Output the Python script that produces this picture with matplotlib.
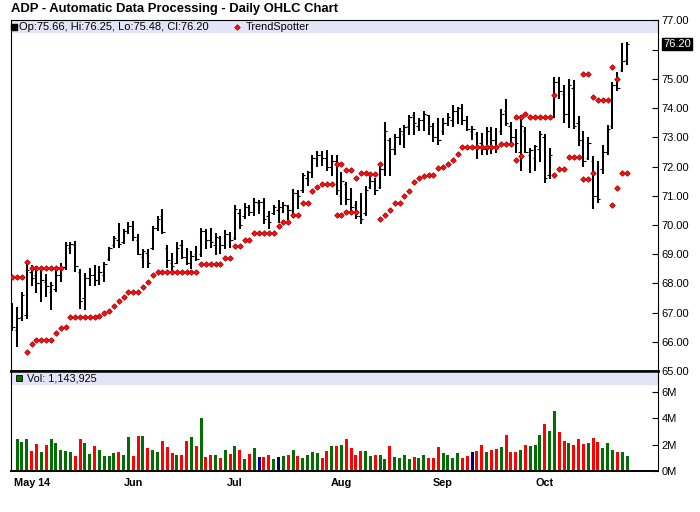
import matplotlib.pyplot as plt
import numpy as np

plt.rcParams['font.family'] = ['Liberation Sans', 'DejaVu Sans']

# daily bars, first one = idx 0
opens = [67.00, 66.40, 66.85, 66.90, 68.40, 68.30, 68.00, 68.05, 67.70, 67.80,
         68.30, 68.55, 69.20, 69.30, 68.40, 67.50, 68.20, 68.30, 68.10, 68.30,
         68.85, 69.30, 69.50, 69.40, 69.80, 69.95, 69.50, 68.90, 69.05, 69.20,
         69.90, 70.30, 69.20, 68.70, 68.70, 69.30, 68.90, 68.70, 69.00, 69.00,
         69.80, 69.50, 69.30, 69.55, 69.30, 69.70, 69.55, 70.40, 70.30, 70.60,
         70.45, 70.75, 70.80, 70.30, 70.40, 70.50, 70.60, 70.65, 70.50, 71.10,
         71.20, 71.60, 71.80, 72.30, 72.40, 72.30, 72.00, 72.20, 71.00, 71.40,
         70.90, 70.70, 70.30, 70.40, 71.30, 71.50, 71.30, 71.90, 72.90, 72.60,
         73.00, 73.10, 73.40, 73.75, 73.40, 73.60, 73.75, 73.40, 73.00, 73.20,
         73.50, 73.60, 73.90, 74.00, 73.60, 73.20, 73.10, 72.80, 72.60, 73.20,
         72.90, 73.20, 73.90, 73.40, 73.00, 72.50, 73.20, 72.40, 72.30, 72.60,
         73.00, 71.70, 73.70, 74.90, 74.50, 73.80, 74.70, 73.50, 72.90, 72.30,
         72.20, 71.00, 71.90, 72.50, 73.40, 74.80, 75.30, 75.66]
highs = [67.33, 67.18, 67.72, 68.77, 68.62, 68.58, 68.54, 68.31, 68.03, 68.54,
         68.69, 69.43, 69.42, 69.44, 68.48, 68.35, 68.54, 68.62, 68.58, 68.74,
         69.25, 69.62, 70.05, 69.85, 70.11, 70.13, 69.68, 69.19, 69.19, 69.96,
         70.31, 70.53, 69.30, 69.03, 69.40, 69.48, 69.22, 69.11, 69.28, 69.91,
         69.85, 69.89, 69.74, 69.62, 69.82, 69.77, 70.70, 70.53, 70.76, 70.68,
         70.91, 70.84, 70.91, 70.48, 70.68, 70.84, 70.79, 70.70, 71.22, 71.18,
         71.78, 71.86, 72.41, 72.52, 72.52, 72.58, 72.38, 72.41, 71.81, 71.47,
         71.27, 70.81, 71.10, 71.33, 71.69, 71.61, 72.03, 73.53, 72.98, 73.13,
         73.32, 73.43, 73.78, 73.87, 73.66, 73.91, 73.78, 73.49, 73.66, 73.66,
         73.83, 74.12, 74.04, 74.14, 73.74, 73.40, 73.17, 73.15, 73.35, 73.35,
         73.32, 73.97, 74.31, 73.51, 73.30, 73.77, 73.35, 72.64, 72.75, 73.21,
         73.13, 72.64, 75.06, 75.06, 74.80, 74.99, 74.97, 73.72, 73.21, 73.01,
         72.35, 72.18, 72.75, 73.43, 74.91, 75.22, 76.22, 76.25]
lows = [66.38, 65.83, 66.72, 66.78, 67.92, 67.67, 67.37, 67.55, 67.10, 67.69,
        68.03, 68.46, 68.99, 68.40, 67.12, 67.10, 67.92, 67.92, 67.94, 68.03,
        68.77, 69.22, 69.22, 69.34, 69.68, 69.45, 68.96, 68.54, 68.54, 69.15,
        69.79, 69.68, 68.54, 68.40, 68.66, 68.83, 68.63, 68.49, 68.77, 68.91,
        69.17, 69.22, 68.98, 69.02, 69.17, 69.20, 69.48, 69.85, 70.19, 70.31,
        70.31, 70.36, 70.02, 69.85, 70.33, 70.08, 70.42, 70.16, 70.23, 70.53,
        71.10, 71.33, 71.61, 71.98, 72.01, 71.84, 71.69, 71.01, 70.70, 70.70,
        70.48, 70.19, 70.02, 70.31, 71.22, 71.01, 71.24, 71.67, 71.67, 72.41,
        72.75, 72.64, 73.07, 73.09, 73.21, 73.21, 73.09, 72.83, 72.75, 73.09,
        73.38, 73.35, 73.47, 73.43, 73.21, 72.92, 72.26, 72.40, 72.41, 72.44,
        72.47, 73.09, 73.38, 72.75, 72.45, 71.84, 72.47, 71.78, 71.84, 72.15,
        71.44, 71.56, 73.66, 74.31, 73.49, 73.32, 73.29, 72.69, 71.99, 72.24,
        70.53, 70.76, 71.76, 72.38, 73.29, 74.60, 75.25, 75.48]
closes = [66.50, 66.80, 67.60, 68.45, 68.20, 68.00, 68.10, 67.90, 67.95, 68.30,
          68.55, 69.30, 69.35, 68.60, 67.40, 68.20, 68.30, 68.10, 68.40, 68.65,
          69.20, 69.55, 69.35, 69.80, 69.95, 69.60, 69.00, 69.10, 68.70, 69.90,
          70.20, 69.75, 68.80, 68.60, 69.20, 68.90, 68.70, 68.95, 68.85, 69.80,
          69.50, 69.40, 69.60, 69.30, 69.70, 69.50, 70.55, 70.00, 70.60, 70.45,
          70.80, 70.80, 70.20, 70.10, 70.60, 70.60, 70.70, 70.50, 71.10, 71.00,
          71.70, 71.80, 72.30, 72.40, 72.30, 72.00, 72.20, 71.20, 71.50, 70.90,
          70.60, 70.30, 70.20, 71.20, 71.50, 71.20, 71.90, 73.20, 72.60, 73.00,
          73.20, 73.35, 73.70, 73.50, 73.60, 73.80, 73.40, 73.00, 72.90, 73.50,
          73.70, 73.90, 74.00, 73.60, 73.30, 73.30, 72.70, 72.60, 73.20, 72.90,
          72.70, 73.80, 73.50, 73.00, 72.80, 73.40, 72.50, 72.55, 72.70, 73.10,
          71.60, 72.40, 74.90, 74.60, 73.80, 74.80, 73.40, 72.90, 72.20, 72.80,
          71.00, 70.90, 72.50, 73.30, 74.80, 74.70, 75.60, 76.20]

# TrendSpotter dots (two rows where they overlap)
ts_upper = [68.23, 68.23, 68.23, 68.73, 68.54, 68.54, 68.54, 68.54, 68.54, 68.54,
            68.54, None, None, None, None, None, None, None, None, None,
            None, None, None, None, None, None, None, None, None, None,
            None, None, None, None, None, None, None, None, None, None,
            None, None, None, None, None, None, None, None, None, None,
            None, None, None, None, None, None, None, None, None, None,
            None, None, None, None, None, None, None, 72.10, 72.10, 71.89,
            71.89, 71.61, 71.78, 71.78, 71.73, 71.73, 72.10, None, None, None,
            None, None, None, None, None, None, None, None, None, None,
            None, None, None, None, None, None, None, None, None, None,
            None, None, None, None, 73.69, 73.69, 73.80, 73.69, 73.69, 73.69,
            73.69, 73.69, 74.45, None, None, None, None, None, 75.16, 75.16,
            74.38, 74.28, 74.28, 74.28, 75.40, 74.99, None, None]
ts_lower = [None, None, None, 65.64, 65.92, 66.05, 66.05, 66.05, 66.05, 66.29,
            66.46, 66.49, 66.85, 66.85, 66.85, 66.85, 66.85, 66.85, 66.88, 66.97,
            67.04, 67.23, 67.41, 67.55, 67.69, 67.69, 67.69, 67.88, 68.03, 68.29,
            68.40, 68.40, 68.40, 68.40, 68.40, 68.40, 68.40, 68.40, 68.40, 68.68,
            68.68, 68.68, 68.68, 68.68, 68.88, 68.88, 69.29, 69.29, 69.50, 69.50,
            69.74, 69.74, 69.74, 69.74, 69.74, 69.98, 70.11, 70.11, 70.35, 70.35,
            70.76, 70.76, 71.17, 71.31, 71.41, 71.41, 71.41, 70.33, 70.33, 70.45,
            70.45, 70.45, None, None, None, None, 70.19, 70.33, 70.50, 70.74,
            70.74, 70.99, 71.17, 71.48, 71.61, 71.67, 71.72, 71.72, 71.95, 71.99,
            72.09, 72.23, 72.44, 72.67, 72.67, 72.67, 72.67, 72.68, 72.68, 72.68,
            72.68, 72.77, 72.77, 72.77, 72.22, 72.37, None, None, None, None,
            None, None, 71.72, 71.92, 71.92, 72.33, 72.33, 72.33, 71.56, 71.56,
            71.78, None, None, None, 70.67, 71.27, 71.78, 71.78]

# volume (millions) starts at bar 1
volume = [2.42, 2.21, 2.42, 1.53, 2.04, 1.43, 1.96, 2.42, 2.11, 1.58,
          1.51, 1.43, 1.13, 2.42, 2.11, 1.28, 1.89, 1.58, 1.13, 1.13,
          1.36, 1.43, 1.21, 2.57, 1.13, 2.64, 2.64, 1.74, 1.58, 1.43,
          2.26, 1.81, 1.36, 1.21, 1.21, 2.26, 2.57, 1.89, 4.00, 1.06,
          1.21, 1.21, 0.98, 1.58, 1.28, 1.89, 1.58, 0.91, 1.28, 1.74,
          1.06, 1.06, 1.21, 0.91, 1.06, 1.13, 1.21, 1.58, 1.13, 0.98,
          1.21, 1.43, 1.36, 0.98, 1.51, 1.89, 1.89, 1.96, 2.42,
          1.71, 1.21, 1.51, 1.51, 1.13, 1.21, 1.21, 0.91, 1.89, 1.06,
          0.98, 1.21, 0.91, 1.06, 0.98, 1.21, 0.98, 0.98, 1.81, 1.36,
          1.21, 0.98, 1.36, 0.98, 1.13, 1.43, 1.51, 1.96, 1.43, 1.58,
          1.66, 1.81, 2.72, 1.43, 1.43, 1.58, 1.96, 1.89, 1.96, 2.72,
          3.55, 3.02, 4.53, 2.94, 2.26, 2.11, 1.96, 2.42, 2.04, 2.11,
          2.49, 2.19, 1.74, 2.11, 1.58, 1.43, 1.43, 1.14]
vol_dir = ("GGGRRGRGGG" "GGRRGGRGGG" "GRGGRRGRGG" "RRRGRRGRGR" "RGRGRGRGRG"
           "BRRGBGRGRG" "GGGRRGRGR"
           "RRRGGRGGRG" "GGGRGGRRRG" "GGGRRBRRGR" "RGRRRGRGGG" "RGGRRGRRRG"
           "RRGGGRGG")

month_pos = [4, 25, 46, 68, 89, 110]
month_labels = ["May 14", "Jun", "Jul", "Aug", "Sep", "Oct"]
price_ticks = [65, 66, 67, 68, 69, 70, 71, 72, 73, 74, 75, 76, 77]
vol_ticks = [0, 2, 4, 6]

dir_colors = {"G": "#006e00", "R": "#ff0000", "B": "#000080"}

fig = plt.figure(figsize=(7, 5.12), dpi=100)
ax = fig.add_axes([0.015, 0.2754, 0.9243, 0.6846])
axv = fig.add_axes([0.015, 0.0801, 0.9243, 0.1953])

idx = np.arange(len(closes))
ax.vlines(idx, lows, highs, color="black", lw=1.45)
ax.hlines(opens, idx - 0.5, idx, color="black", lw=0.8)
ax.hlines(closes, idx, idx + 0.5, color="black", lw=0.8)

up = np.array([np.nan if v is None else v for v in ts_upper])
dn = np.array([np.nan if v is None else v for v in ts_lower])
for row in (up, dn):
    ax.plot(idx, row, ls="none", marker="D", ms=2.8, mfc="#ff1010",
            mec="#b00000", mew=0.6, zorder=3)

ax.set_xlim(-0.37, 133.3)
ax.set_ylim(65, 77)
ax.set_yticks(price_ticks)
lbls = ["%.2f" % t for t in price_ticks]
lbls[price_ticks.index(76)] = ""
ax.set_yticklabels(lbls)
ax.yaxis.tick_right()
ax.tick_params(axis="y", direction="in", length=4, width=0.8, pad=3,
               labelsize=8)
ax.set_xticks([])

# legend band
ax.axhspan(77 - 12 / 29.2, 77, color="#e4e4f8", zorder=0)
ax.plot([0.0055], [0.981], marker="s", ms=3.8, color="black",
        transform=ax.transAxes, clip_on=False)
ax.text(0.0125, 0.981, "Op:%.2f, Hi:%.2f, Lo:%.2f, Cl:%.2f"
        % (opens[-1], highs[-1], lows[-1], closes[-1]),
        transform=ax.transAxes, va="center", ha="left", fontsize=8)
ax.plot([0.35], [0.981], marker="D", ms=2.8, mfc="#ff1010", mec="#b00000",
        mew=0.6, transform=ax.transAxes, clip_on=False)
ax.text(0.364, 0.981, "TrendSpotter", transform=ax.transAxes,
        va="center", ha="left", fontsize=7.8)

# last price tag
ax.annotate("%.2f" % closes[-1], xy=(1.0, closes[-1]),
            xycoords=("axes fraction", "data"), xytext=(4, 0),
            textcoords="offset points", va="center", ha="left",
            fontsize=8, color="white",
            bbox=dict(boxstyle="square,pad=0.12", fc="black", ec="black"))

for s in ("left", "top", "right"):
    ax.spines[s].set_linewidth(0.8)
ax.spines["bottom"].set_linewidth(1.8)

# volume panel
vidx = idx[1:]
axv.bar(vidx, volume, width=0.62, color=[dir_colors[c] for c in vol_dir])
axv.set_xlim(-0.37, 133.3)
axv.set_ylim(0, 7.565)
axv.axhspan(7.565 - 13 / 13.22, 7.565, color="#e4e4f8", zorder=0)
axv.plot([0.013], [0.925], marker="s", ms=4.2, mfc="#006e00", mec="black",
         mew=0.6, transform=axv.transAxes, clip_on=False)
axv.text(0.026, 0.925, "Vol: {:,}".format(1143925), transform=axv.transAxes,
         va="center", ha="left", fontsize=7.8)
axv.set_yticks(vol_ticks)
axv.set_yticklabels(["%dM" % v for v in vol_ticks])
axv.yaxis.tick_right()
axv.tick_params(axis="y", direction="in", length=4, width=0.8, pad=3,
                labelsize=8)
axv.set_xticks(month_pos)
axv.set_xticklabels(month_labels, fontweight="bold", fontsize=7.8)
axv.tick_params(axis="x", length=0, pad=5)
for s in ("left", "right"):
    axv.spines[s].set_linewidth(0.8)
axv.spines["top"].set_linewidth(1.8)
axv.spines["bottom"].set_linewidth(1.4)

fig.text(0.016, 1 - 9 / 512, "ADP - Automatic Data Processing - Daily OHLC Chart",
         fontsize=9.4, fontweight="bold", va="center", ha="left")

fig.savefig("out.png", dpi=100)
